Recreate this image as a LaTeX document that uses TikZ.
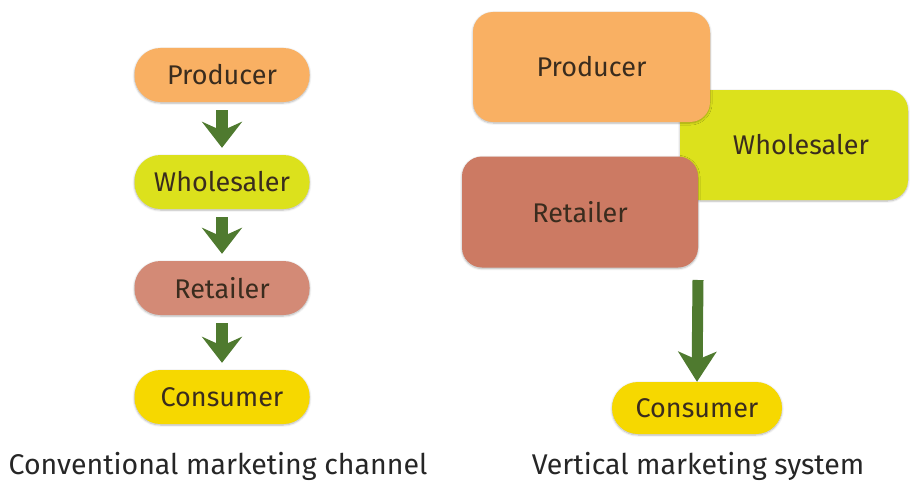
\documentclass[tikz,border=0pt]{standalone}
\usepackage{fontspec}
\setmainfont{Fira Sans}
\usetikzlibrary{arrows.meta,shadows.blur}
\definecolor{prodc}{HTML}{F9B063}
\definecolor{wholc}{HTML}{DCE11C}
\definecolor{retlc}{HTML}{D38A76}
\definecolor{retrc}{HTML}{CC7A63}
\definecolor{consc}{HTML}{F6D800}
\definecolor{arrc}{HTML}{4F7A2F}
\definecolor{txtc}{HTML}{3A2C1E}
\tikzset{
  pill/.style={rounded corners=26pt, minimum width=175pt, minimum height=54pt, inner sep=0pt,
    text=txtc, font=\fontsize{27}{29}\selectfont,
    blur shadow={shadow xshift=0pt, shadow yshift=-1pt, shadow blur steps=6, shadow opacity=30}},
  bigbox/.style={rounded corners=20pt, inner sep=0pt, text=txtc, font=\fontsize{27}{29}\selectfont,
    blur shadow={shadow xshift=0pt, shadow yshift=-1pt, shadow blur steps=6, shadow opacity=30}},
  smallarrow/.style={draw=arrc, line width=12pt, -{Stealth[width=40pt,length=26pt,inset=9pt]}, shorten <=8pt, shorten >=7pt},
  bigarrow/.style={draw=arrc, line width=11pt, -{Stealth[width=38pt,length=30pt,inset=8pt]}},
  caption/.style={text=black!85, font=\fontsize{28.5}{30}\selectfont}
}
\begin{document}
\begin{tikzpicture}[x=1pt,y=-1pt]
\useasboundingbox (0,0) rectangle (910,487);
% left column
\node[pill, fill=prodc] (LProd) at (222,75) {Producer};
\node[pill, fill=wholc] (LWhol) at (222,182) {Wholesaler};
\node[pill, fill=retlc] (LRetl) at (222,288) {Retailer};
\node[pill, fill=consc] (LCons) at (222,397) {Consumer};
\draw[smallarrow] (LProd) -- (LWhol);
\draw[smallarrow] (LWhol) -- (LRetl);
\draw[smallarrow] (LRetl) -- (LCons);
\node[caption] (LCap) at (218,466) {Conventional marketing channel};
% right column
\node[bigbox, fill=wholc, minimum width=228pt, minimum height=110pt] (RWhol) at (794,145) {\hspace*{14pt}Wholesaler};
\node[bigbox, fill=prodc, minimum width=237pt, minimum height=110pt] (RProd) at (591.5,67) {Producer};
\node[bigbox, fill=retrc, minimum width=236pt, minimum height=111pt] (RRetl) at (580,212) {Retailer};
\node[pill, fill=consc, minimum width=170pt, minimum height=52pt] (RCons) at (697,408) {Consumer};
\coordinate (RStart) at (698,280);
\draw[bigarrow] (RStart) -- (RCons.north);
\node[caption] (RCap) at (698,466) {Vertical marketing system};
\end{tikzpicture}
\end{document}
